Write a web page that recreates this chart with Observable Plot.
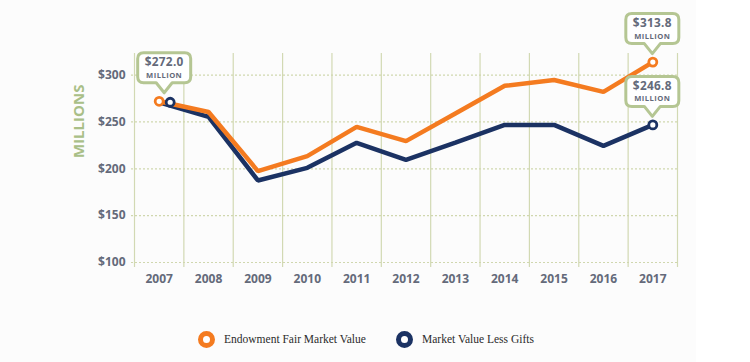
<!DOCTYPE html>
<html>
<head>
<meta charset="utf-8">
<script src="https://cdn.jsdelivr.net/npm/d3@7"></script>
<script src="https://cdn.jsdelivr.net/npm/@observablehq/plot@0.6"></script>
<style>
  html, body { margin: 0; padding: 0; background: #ffffff; }
  #wrap { position: relative; width: 750px; height: 362px; overflow: hidden; }
  #bg { position: absolute; left: 0; top: 0; width: 696px; height: 362px; background: #fcfcfc; }
  #chart { position: absolute; left: 0; top: 0; }
  .leg { position: absolute; top: 330px; height: 18px; display: flex; align-items: center;
         font-family: "Liberation Serif", serif; font-size: 11.5px; color: #2b2b2b; }
  .ring { width: 7px; height: 7px; border-radius: 50%; border: 5px solid; background: #fff; margin-right: 9px; }
</style>
</head>
<body>
<div id="wrap">
  <div id="bg"></div>
  <div id="chart"></div>
</div>
<script>
const years = [2007, 2008, 2009, 2010, 2011, 2012, 2013, 2014, 2015, 2016, 2017];
const fairValue = [272.0, 260.6, 197.5, 213.5, 244.7, 229.5, 259.0, 288.5, 294.7, 282.0, 313.8];
const lessGifts = [271.0, 255.3, 187.5, 201.0, 227.7, 209.6, 228.0, 246.8, 246.8, 224.5, 246.8];
const yTicks = [100, 150, 200, 250, 300];
const seriesNames = ["Endowment Fair Market Value", "Market Value Less Gifts"];
const callouts = [
  {year: 2007, value: 272.0, label: "$272.0", series: "both"},
  {year: 2017, value: 313.8, label: "$313.8", series: "fair"},
  {year: 2017, value: 246.8, label: "$246.8", series: "gifts"}
];

const orange = "#f47b20";
const navy = "#1b3263";
const gridGreen = "#d2d9b3";
const labelGreen = "#a9bf87";
const calloutGreen = "#b5c693";
const textGray = "#646a7a";

const fairData = years.map((y, i) => ({year: y, value: fairValue[i]}));
const giftData = years.map((y, i) => ({year: y, value: lessGifts[i]}));
const bounds = [...years.map(y => y - 0.5), years[years.length - 1] + 0.5];
const firstYear = years[0], lastYear = years[years.length - 1];

const blueShift = 11;

function calloutMark(index, scales) {
  const g = d3.create("svg:g");
  const w = 53, h = 30, r = 6, pw = 8, ph = 10;
  for (const c of callouts) {
    let cx = scales.x(c.year);
    if (c.series === "both") cx += blueShift / 2;
    const py = scales.y(c.value);
    const tipY = py - 8;
    const bottom = tipY - ph, top = bottom - h, left = cx - w / 2, right = cx + w / 2;
    const p = `M${left + r},${top} H${right - r} Q${right},${top} ${right},${top + r} V${bottom - r} Q${right},${bottom} ${right - r},${bottom} H${cx + pw} L${cx},${tipY} L${cx - pw},${bottom} H${left + r} Q${left},${bottom} ${left},${bottom - r} V${top + r} Q${left},${top} ${left + r},${top} Z`;
    g.append("path").attr("d", p).attr("fill", "#ffffff").attr("stroke", calloutGreen).attr("stroke-width", 3).attr("stroke-linejoin", "round");
    g.append("text").attr("x", cx).attr("y", top + 13.4).attr("text-anchor", "middle")
      .attr("font-family", "Open Sans").attr("font-weight", 700).attr("fill", textGray)
      .attr("font-size", 11.8).attr("letter-spacing", 0.3).text(c.label);
    g.append("text").attr("x", cx).attr("y", top + 24.9).attr("text-anchor", "middle")
      .attr("font-family", "Open Sans").attr("font-weight", 700).attr("fill", textGray)
      .attr("font-size", 7.6).attr("letter-spacing", 0.45).text("MILLION");
  }
  return g.node();
}

const chart = Plot.plot({
  width: 750,
  height: 320,
  marginLeft: 134,
  marginRight: 73,
  marginTop: 53,
  marginBottom: 58,
  x: {domain: [firstYear - 0.5, lastYear + 0.5], axis: null},
  y: {domain: [100, 323], axis: null},
  style: {background: "transparent", fontFamily: "Open Sans"},
  marks: [
    Plot.ruleX(bounds, {stroke: gridGreen, strokeWidth: 1.2, insetBottom: -5}),
    Plot.ruleY(yTicks, {stroke: "#d0d7ae", strokeWidth: 1.2, strokeDasharray: "2,2", insetLeft: -3, insetRight: -2}),
    Plot.text(yTicks, {y: d => d, text: d => "$" + d, frameAnchor: "left", textAnchor: "end", dx: -9,
      fill: textGray, fontWeight: 700, fontSize: 12, letterSpacing: 0.6}),
    Plot.text(years, {x: d => d, text: d => String(d), frameAnchor: "bottom", dy: 20,
      fill: textGray, fontWeight: 700, fontSize: 12, letterSpacing: 0.6}),
    Plot.text(["MILLIONS"], {frameAnchor: "left", rotate: -90, dx: -55, text: d => d,
      fill: labelGreen, fontWeight: 700, fontSize: 15, letterSpacing: 0.8}),
    Plot.line(giftData, {x: "year", y: "value", stroke: navy, strokeWidth: 4.5, strokeLinejoin: "miter"}),
    Plot.line(fairData, {x: "year", y: "value", stroke: orange, strokeWidth: 4.5, strokeLinejoin: "miter"}),
    Plot.dot(fairData.filter(d => d.year === firstYear || d.year === lastYear), {x: "year", y: "value", r: 4, fill: "#ffffff", stroke: orange, strokeWidth: 2.8}),
    Plot.dot(giftData.filter(d => d.year === firstYear), {x: "year", y: "value", r: 4, fill: "#ffffff", stroke: navy, strokeWidth: 2.8, dx: blueShift}),
    Plot.dot(giftData.filter(d => d.year === lastYear), {x: "year", y: "value", r: 4, fill: "#ffffff", stroke: navy, strokeWidth: 2.8}),
    calloutMark
  ]
});
document.getElementById("chart").appendChild(chart);

const wrap = document.getElementById("wrap");
const legendItems = [
  {name: seriesNames[0], color: orange, left: 198},
  {name: seriesNames[1], color: navy, left: 396}
];
for (const it of legendItems) {
  const d = document.createElement("div");
  d.className = "leg";
  d.style.left = it.left + "px";
  const ring = document.createElement("span");
  ring.className = "ring";
  ring.style.borderColor = it.color;
  const t = document.createElement("span");
  t.textContent = it.name;
  d.appendChild(ring);
  d.appendChild(t);
  wrap.appendChild(d);
}
</script>
</body>
</html>
